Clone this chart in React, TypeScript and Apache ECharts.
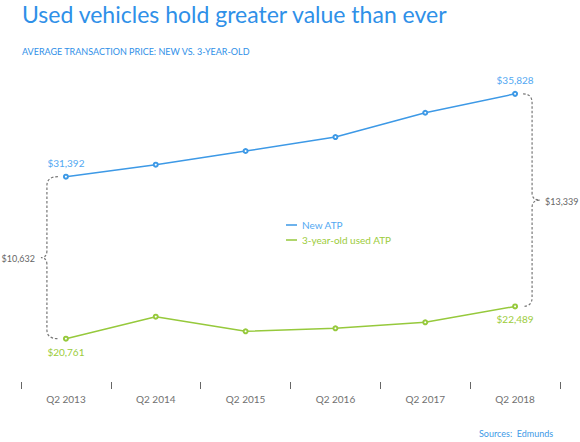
import React, { useEffect, useRef } from "react";
import * as echarts from "echarts";

const categories = ["Q2 2013", "Q2 2014", "Q2 2015", "Q2 2016", "Q2 2017", "Q2 2018"];
const newAtp = [31392, 32034, 32767, 33516, 34816, 35828];
const usedAtp = [20761, 21938, 21157, 21317, 21638, 22489];
const gapLabels = ["$10,632", "$13,339"];
const seriesNames = ["New ATP", "3-year-old used ATP"];

const BLUE = "#3d99e6";
const BLUE_TXT = "#52a8f2";
const GREEN = "#96c93c";
const GREEN_TXT = "#9ccc3a";
const GRAY = "#666666";
const FONT = "Lato, 'DejaVu Sans', sans-serif";

const Brace = echarts.graphic.extendShape({
  shape: { x0: 0, y0: 0, y1: 0, xv: 0, xt: 0 },
  buildPath(ctx: any, s: any) {
    const r = 9;
    const r2 = 7;
    const ym = (s.y0 + s.y1) / 2;
    ctx.moveTo(s.x0, s.y0);
    ctx.quadraticCurveTo(s.xv, s.y0, s.xv, s.y0 + r);
    ctx.lineTo(s.xv, ym - r2);
    ctx.quadraticCurveTo(s.xv, ym, s.xt, ym);
    ctx.quadraticCurveTo(s.xv, ym, s.xv, ym + r2);
    ctx.lineTo(s.xv, s.y1 - r);
    ctx.quadraticCurveTo(s.xv, s.y1, s.x0, s.y1);
  },
});
echarts.graphic.registerShape("brace", Brace);

const money = (v: number) => "$" + v.toLocaleString("en-US");

export default function App() {
  const ref = useRef<HTMLDivElement>(null);
  useEffect(() => {
    if (!ref.current) return;
    const chart = echarts.init(ref.current, null, { renderer: "svg" });
    const last = categories.length - 1;
    chart.setOption({
      animation: false,
      backgroundColor: "#ffffff",
      title: [
        {
          text: "Used vehicles hold greater value than ever",
          left: 22,
          top: 2,
          padding: 0,
          textStyle: { color: "#2f90e8", fontSize: 23, fontWeight: "normal", fontFamily: FONT },
        },
        {
          text: "AVERAGE TRANSACTION PRICE: NEW VS. 3-YEAR-OLD",
          left: 22,
          top: 47,
          padding: 0,
          textStyle: { color: "#2f90e8", fontSize: 9, fontWeight: "normal", fontFamily: FONT },
        },
        {
          text: "Sources:  Edmunds",
          left: 479,
          top: 429,
          padding: 0,
          textStyle: { color: "#3d99e6", fontSize: 9, fontWeight: "normal", fontFamily: FONT },
        },
      ],
      legend: {
        orient: "vertical",
        left: 281,
        top: 215,
        icon: "rect",
        itemWidth: 11,
        itemHeight: 1.5,
        itemGap: 5,
        textStyle: { fontSize: 10, fontFamily: FONT },
        data: [
          { name: seriesNames[0], textStyle: { color: BLUE_TXT } },
          { name: seriesNames[1], textStyle: { color: GREEN_TXT } },
        ],
      },
      grid: { left: 21, right: 20, top: 60, bottom: 60 },
      xAxis: {
        type: "category",
        data: categories,
        boundaryGap: true,
        axisLine: { show: false },
        axisTick: { show: true, length: 7, lineStyle: { color: "#666" } },
        axisLabel: { color: "#707070", fontSize: 10, margin: 12, fontFamily: FONT },
        splitLine: { show: false },
      },
      yAxis: [
        { type: "value", show: false, min: 20398, max: 37641, splitLine: { show: false } },
        { type: "value", show: false, min: 18442, max: 35685, splitLine: { show: false } },
      ],
      series: [
        {
          name: seriesNames[0],
          type: "line",
          yAxisIndex: 0,
          symbol: "emptyCircle",
          symbolSize: 4,
          lineStyle: { color: BLUE, width: 1.5 },
          itemStyle: { color: BLUE },
          label: {
            position: "top",
            distance: 6,
            color: BLUE_TXT,
            fontSize: 10,
            fontFamily: FONT,
            formatter: (p: any) => money(p.value),
          },
          data: newAtp.map((v, i) => ({ value: v, label: { show: i === 0 || i === last } })),
        },
        {
          name: seriesNames[1],
          type: "line",
          yAxisIndex: 1,
          symbol: "emptyCircle",
          symbolSize: 4,
          lineStyle: { color: GREEN, width: 1.5 },
          itemStyle: { color: GREEN },
          label: {
            position: "bottom",
            distance: 5,
            color: GREEN_TXT,
            fontSize: 10,
            fontFamily: FONT,
            formatter: (p: any) => money(p.value),
          },
          data: usedAtp.map((v, i) => ({ value: v, label: { show: i === 0 || i === last } })),
        },
      ],
    });

    const pb0 = chart.convertToPixel({ xAxisIndex: 0, yAxisIndex: 0 }, [0, newAtp[0]]) as number[];
    const pg0 = chart.convertToPixel({ xAxisIndex: 0, yAxisIndex: 1 }, [0, usedAtp[0]]) as number[];
    const pb1 = chart.convertToPixel({ xAxisIndex: 0, yAxisIndex: 0 }, [last, newAtp[last]]) as number[];
    const pg1 = chart.convertToPixel({ xAxisIndex: 0, yAxisIndex: 1 }, [last, usedAtp[last]]) as number[];

    const braceStyle = { stroke: "#777", lineWidth: 1.2, lineDash: [2.5, 2], fill: "none" };
    const lx = pb0[0];
    const rx = pb1[0];
    chart.setOption({
      graphic: [
        {
          type: "brace",
          shape: { x0: lx - 8, y0: pb0[1], y1: pg0[1], xv: lx - 19, xt: lx - 25 },
          style: braceStyle,
          silent: true,
        },
        {
          type: "text",
          x: lx - 31,
          y: (pb0[1] + pg0[1]) / 2 + 1,
          style: {
            text: gapLabels[0],
            fill: GRAY,
            font: "9px " + FONT,
            align: "right",
            verticalAlign: "middle",
          },
        },
        {
          type: "brace",
          shape: { x0: rx + 8, y0: pb1[1], y1: pg1[1], xv: rx + 17, xt: rx + 25 },
          style: braceStyle,
          silent: true,
        },
        {
          type: "text",
          x: rx + 30,
          y: (pb1[1] + pg1[1]) / 2 + 1,
          style: {
            text: gapLabels[1],
            fill: GRAY,
            font: "9px " + FONT,
            align: "left",
            verticalAlign: "middle",
          },
        },
      ],
    });

    return () => chart.dispose();
  }, []);
  return (
    <div
      ref={ref}
      style={{ position: "absolute", left: 0, top: 0, width: 580, height: 442 }}
    />
  );
}
